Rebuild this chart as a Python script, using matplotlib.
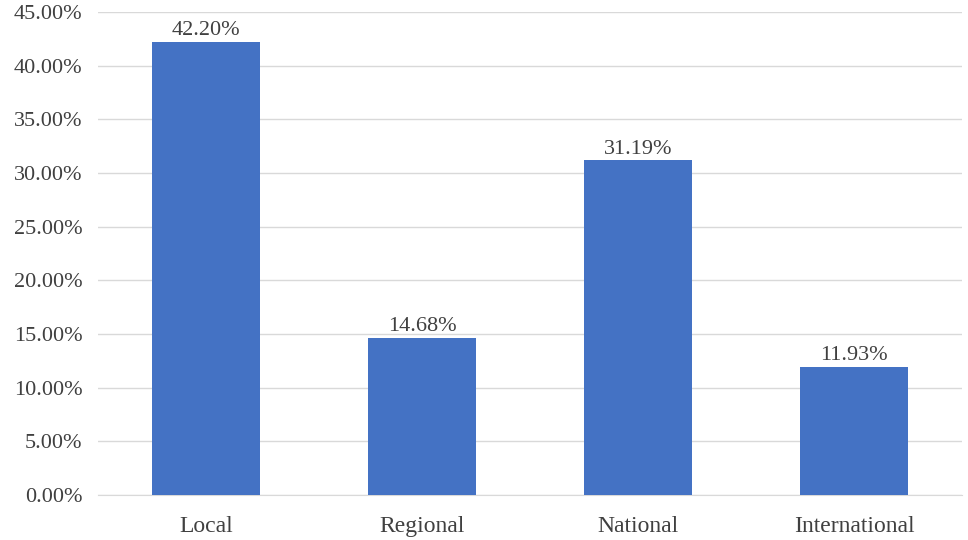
import matplotlib
matplotlib.use("Agg")
import matplotlib.pyplot as plt
from matplotlib.ticker import FuncFormatter, MultipleLocator

categories = ["Local", "Regional", "National", "International"]
values = [42.20, 14.68, 31.19, 11.93]

plt.rcParams['font.family'] = ['Liberation Serif', 'DejaVu Serif']

fig = plt.figure(figsize=(9.68, 5.4), dpi=100)
ax = fig.add_axes([0.101, 0.083, 0.893, 0.895])

x = range(len(categories))
bars = ax.bar(x, values, width=0.5, color="#4472C4", zorder=3)
for xi, v in zip(x, values):
    ax.text(xi, v + 0.15, f"{v:.2f}%", ha="center", va="bottom", fontsize=16, color="#404040")

ax.set_xlim(-0.5, 3.5)
ax.set_ylim(0, 45)
ax.yaxis.set_major_locator(MultipleLocator(5))
ax.yaxis.set_major_formatter(FuncFormatter(lambda v, p: f"{v:.2f}%"))
ax.set_xticks(list(x))
ax.set_xticklabels(categories)
ax.grid(axis="y", color="#d9d9d9", linewidth=1, zorder=0)
for s in ["top", "right", "left"]:
    ax.spines[s].set_visible(False)
ax.spines["bottom"].set_color("#d9d9d9")
ax.tick_params(axis="both", length=0, colors="#404040")
ax.tick_params(axis="y", pad=11, labelsize=16)
ax.tick_params(axis="x", pad=15, labelsize=17)

fig.savefig("out.png", dpi=100)
